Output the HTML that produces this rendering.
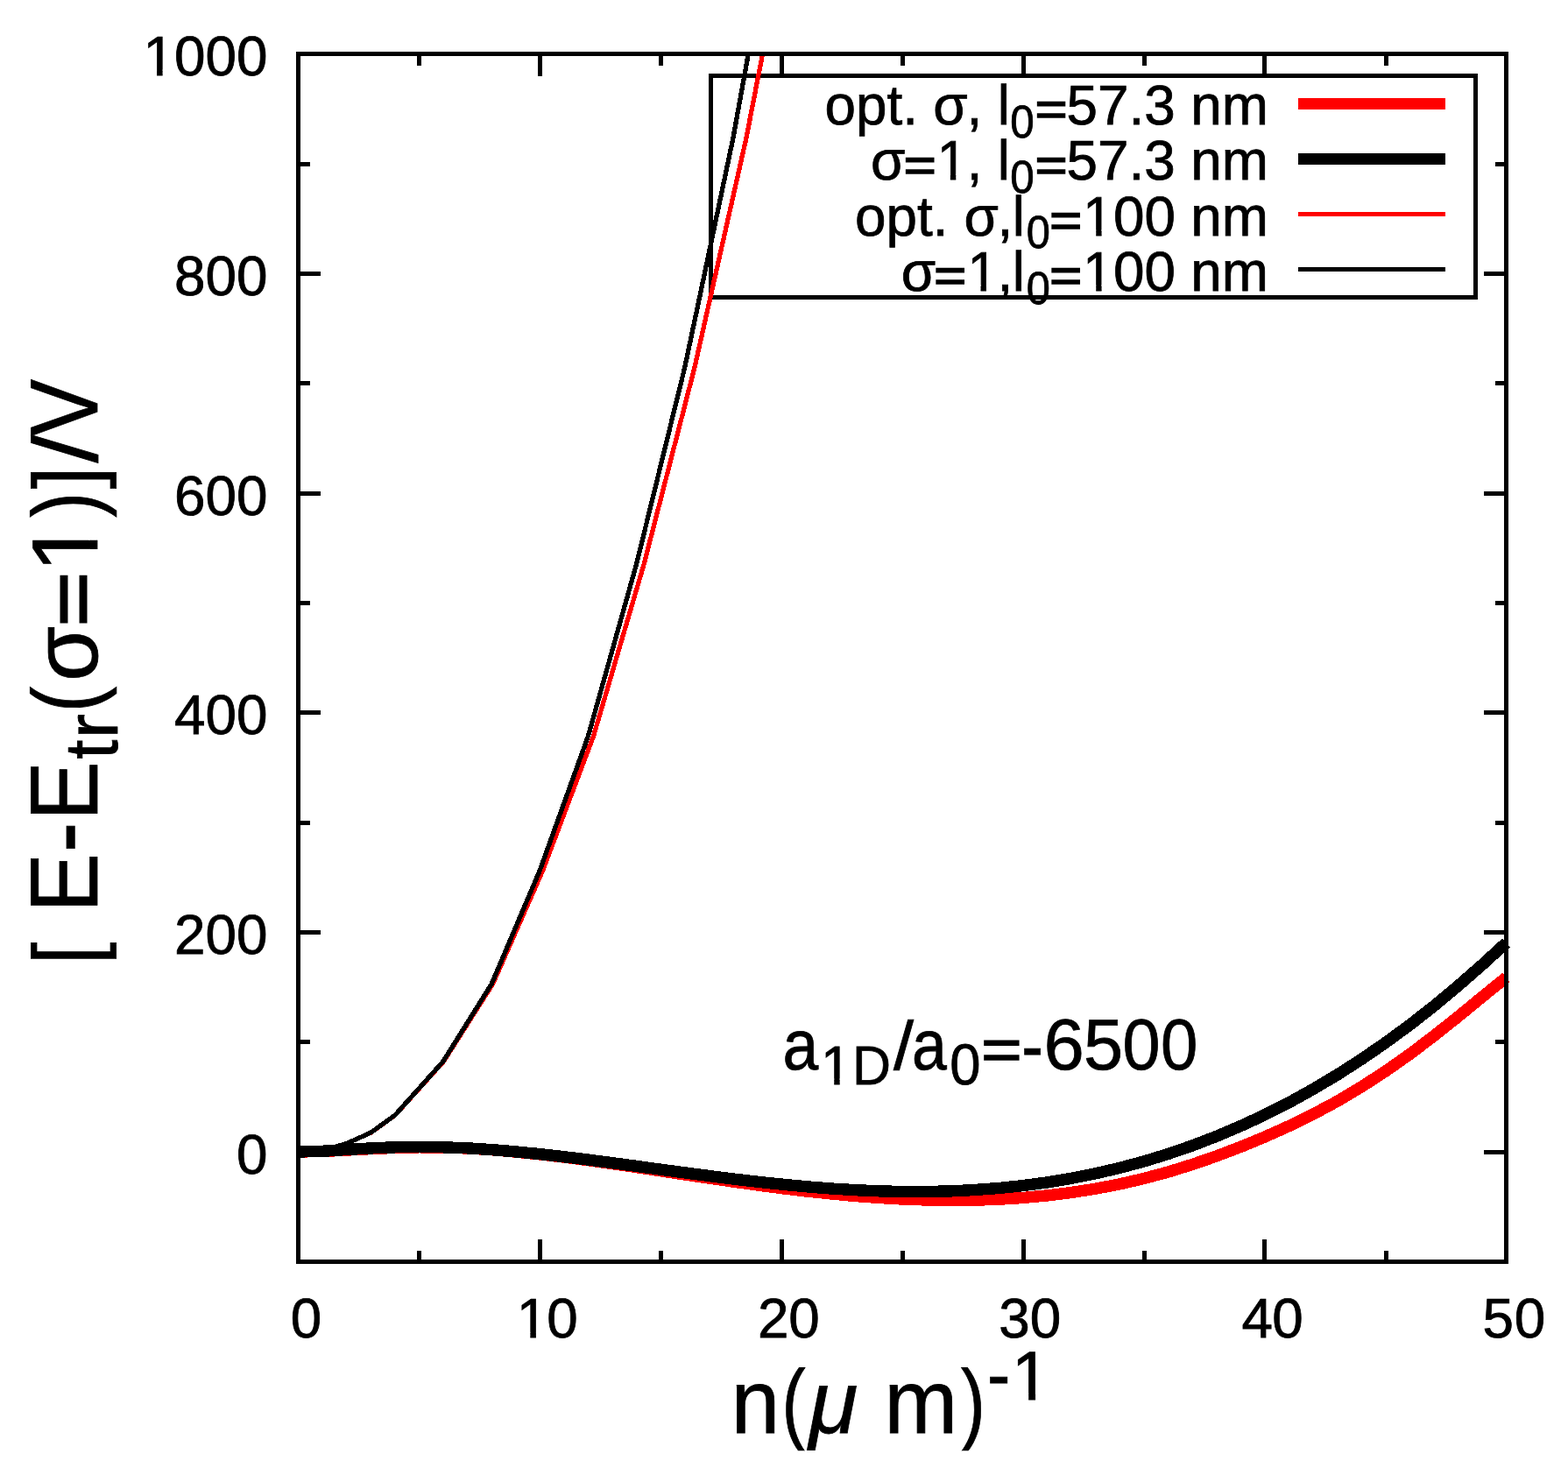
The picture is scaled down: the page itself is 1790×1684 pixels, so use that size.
<!DOCTYPE html>
<html lang="en"><head><meta charset="utf-8"><title>Energy per particle vs density</title>
<style>html,body{margin:0;padding:0;background:#fff}body{width:1790px;height:1684px}svg{display:block}</style></head>
<body>
<svg width="1790" height="1684" viewBox="0 0 1790 1684">
<rect x="0" y="0" width="1790" height="1684" fill="#fff"/>
<rect id="legend-box" x="811.5" y="86.5" width="873.0" height="253.0" stroke="#000" stroke-width="5" fill="none"/>
<defs><clipPath id="cp"><rect x="330" y="61.5" width="1400" height="1379"/></clipPath></defs>
<g id="curves" fill="none" stroke-linecap="butt" stroke-linejoin="round" clip-path="url(#cp)" shape-rendering="crispEdges">
<path d="M340.5 1315.0 L368.1 1314.5 L395.7 1313.1 L423.2 1311.6 L450.8 1310.4 L478.4 1309.8 L506.0 1310.0 L533.6 1311.0 L561.1 1312.7 L588.7 1315.1 L616.3 1317.9 L643.9 1321.1 L671.5 1324.7 L699.0 1328.6 L726.6 1332.6 L754.2 1336.8 L781.8 1341.0 L809.4 1345.1 L836.9 1349.1 L864.5 1353.0 L892.1 1356.6 L919.7 1359.9 L947.3 1362.8 L974.8 1365.4 L1002.4 1367.4 L1030.0 1369.0 L1057.6 1370.0 L1085.2 1370.4 L1112.7 1370.2 L1140.3 1369.2 L1167.9 1367.5 L1195.5 1364.9 L1223.1 1361.5 L1250.6 1357.2 L1278.2 1351.9 L1305.8 1345.5 L1333.4 1338.1 L1361.0 1329.5 L1388.5 1320.0 L1416.1 1309.5 L1443.7 1298.1 L1471.3 1285.7 L1498.9 1272.2 L1526.4 1257.4 L1554.0 1241.0 L1581.6 1223.1 L1609.2 1203.7 L1636.8 1182.8 L1664.3 1160.9 L1691.9 1138.3 L1719.5 1115.9" stroke="#f00" stroke-width="13.4"/>
<path d="M340.5 1315.0 L368.1 1314.3 L395.7 1312.5 L423.2 1310.9 L450.8 1309.8 L478.4 1309.4 L506.0 1309.8 L533.6 1310.8 L561.1 1312.6 L588.7 1314.9 L616.3 1317.6 L643.9 1320.7 L671.5 1324.1 L699.0 1327.7 L726.6 1331.4 L754.2 1335.2 L781.8 1338.9 L809.4 1342.5 L836.9 1346.0 L864.5 1349.2 L892.1 1352.1 L919.7 1354.7 L947.3 1356.9 L974.8 1358.6 L1002.4 1359.8 L1030.0 1360.5 L1057.6 1360.5 L1085.2 1359.9 L1112.7 1358.5 L1140.3 1356.5 L1167.9 1353.6 L1195.5 1349.9 L1223.1 1345.3 L1250.6 1339.8 L1278.2 1333.4 L1305.8 1326.0 L1333.4 1317.5 L1361.0 1308.0 L1388.5 1297.4 L1416.1 1285.7 L1443.7 1272.9 L1471.3 1258.9 L1498.9 1243.6 L1526.4 1227.2 L1554.0 1209.5 L1581.6 1190.5 L1609.2 1170.3 L1636.8 1148.7 L1664.3 1125.8 L1691.9 1101.6 L1719.5 1076.3" stroke="#000" stroke-width="13.4"/>
<path d="M340.5 1315.0 L368.1 1313.6 L395.7 1305.5 L423.3 1293.2 L451.0 1273.3 L506.5 1211.7 L562.5 1123.5 L619.7 993.6 L677.6 840.2 L735.2 643.9 L793.0 419.2 L851.9 157.7 L911.2 -147.7" stroke="#f00" stroke-width="5.3"/>
<path d="M340.5 1315.0 L368.1 1313.6 L395.7 1305.5 L423.2 1293.2 L450.8 1273.3 L506.0 1211.7 L561.1 1123.5 L616.3 993.6 L671.5 840.2 L726.6 643.9 L781.8 419.2 L836.9 157.7 L892.1 -147.7" stroke="#000" stroke-width="5.3"/>
</g>
<g id="axes" stroke="#000" stroke-width="5" fill="none" stroke-linecap="butt" stroke-linejoin="miter">
<rect x="340.5" y="61.5" width="1379.0" height="1379.0"/>
<path d="M478.5 1440.5V1428.0M478.5 61.5V75.0M616.5 1440.5V1415.0M616.5 61.5V87.0M754.5 1440.5V1428.0M754.5 61.5V75.0M892.5 1440.5V1415.0M892.5 61.5V87.0M1030.5 1440.5V1428.0M1030.5 61.5V75.0M1168.5 1440.5V1415.0M1168.5 61.5V87.0M1306.5 1440.5V1428.0M1306.5 61.5V75.0M1443.5 1440.5V1415.0M1443.5 61.5V87.0M1582.5 1440.5V1428.0M1582.5 61.5V75.0M340.5 1315.5H366.0M1719.5 1315.5H1694.0M340.5 1189.5H354.0M1719.5 1189.5H1707.0M340.5 1064.5H366.0M1719.5 1064.5H1694.0M340.5 939.5H354.0M1719.5 939.5H1707.0M340.5 813.5H366.0M1719.5 813.5H1694.0M340.5 688.5H354.0M1719.5 688.5H1707.0M340.5 563.5H366.0M1719.5 563.5H1694.0M340.5 437.5H354.0M1719.5 437.5H1707.0M340.5 312.5H366.0M1719.5 312.5H1694.0M340.5 187.5H354.0M1719.5 187.5H1707.0"/>
</g>
<g id="legend-samples" fill="none">
<path d="M1482 118.5H1650" stroke="#f00" stroke-width="13"/>
<path d="M1482 181.5H1650" stroke="#000" stroke-width="13"/>
<path d="M1482 244.5H1650" stroke="#f00" stroke-width="5"/>
<path d="M1482 307.5H1650" stroke="#000" stroke-width="5"/>
</g>
<g id="ticklabels">
<clipPath id="ft1"><path clip-rule="evenodd" d="M-3000 -3000H3000V3000H-3000ZM166.58 79.43H179.06V87.60H166.58ZM185.59 79.43H197.73V87.60H185.59Z"/></clipPath><text clip-path="url(#ft1)" style="font-family:&quot;Liberation Sans&quot;,&quot;Liberation Sans Narrow&quot;,sans-serif" fill="#000" stroke="#000" stroke-width="0.8" stroke-linejoin="miter" text-rendering="geometricPrecision" xml:space="preserve"><tspan x="163.46 198.94 234.43 269.91" y="85.80" style="font-size:63.80px">1000</tspan></text>
<text style="font-family:&quot;Liberation Sans&quot;,&quot;Liberation Sans Narrow&quot;,sans-serif" fill="#000" stroke="#000" stroke-width="0.8" stroke-linejoin="miter" text-rendering="geometricPrecision" xml:space="preserve"><tspan x="198.94 234.43 269.91" y="336.80" style="font-size:63.80px">800</tspan></text>
<text style="font-family:&quot;Liberation Sans&quot;,&quot;Liberation Sans Narrow&quot;,sans-serif" fill="#000" stroke="#000" stroke-width="0.8" stroke-linejoin="miter" text-rendering="geometricPrecision" xml:space="preserve"><tspan x="198.94 234.43 269.91" y="587.80" style="font-size:63.80px">600</tspan></text>
<text style="font-family:&quot;Liberation Sans&quot;,&quot;Liberation Sans Narrow&quot;,sans-serif" fill="#000" stroke="#000" stroke-width="0.8" stroke-linejoin="miter" text-rendering="geometricPrecision" xml:space="preserve"><tspan x="198.94 234.43 269.91" y="837.80" style="font-size:63.80px">400</tspan></text>
<text style="font-family:&quot;Liberation Sans&quot;,&quot;Liberation Sans Narrow&quot;,sans-serif" fill="#000" stroke="#000" stroke-width="0.8" stroke-linejoin="miter" text-rendering="geometricPrecision" xml:space="preserve"><tspan x="198.94 234.43 269.91" y="1088.80" style="font-size:63.80px">200</tspan></text>
<text style="font-family:&quot;Liberation Sans&quot;,&quot;Liberation Sans Narrow&quot;,sans-serif" fill="#000" stroke="#000" stroke-width="0.8" stroke-linejoin="miter" text-rendering="geometricPrecision" xml:space="preserve"><tspan x="269.91" y="1339.80" style="font-size:63.80px">0</tspan></text>
<text style="font-family:&quot;Liberation Sans&quot;,&quot;Liberation Sans Narrow&quot;,sans-serif" fill="#000" stroke="#000" stroke-width="0.8" stroke-linejoin="miter" text-rendering="geometricPrecision" xml:space="preserve"><tspan x="331.71" y="1527.20" style="font-size:63.80px">0</tspan></text>
<clipPath id="ft2"><path clip-rule="evenodd" d="M-3000 -3000H3000V3000H-3000ZM592.88 1520.83H605.36V1529.00H592.88ZM611.90 1520.83H624.03V1529.00H611.90Z"/></clipPath><text clip-path="url(#ft2)" style="font-family:&quot;Liberation Sans&quot;,&quot;Liberation Sans Narrow&quot;,sans-serif" fill="#000" stroke="#000" stroke-width="0.8" stroke-linejoin="miter" text-rendering="geometricPrecision" xml:space="preserve"><tspan x="589.76" y="1527.20" style="font-size:63.80px">1</tspan><tspan x="624.31" y="1527.20" style="font-size:63.80px">0</tspan></text>
<text style="font-family:&quot;Liberation Sans&quot;,&quot;Liberation Sans Narrow&quot;,sans-serif" fill="#000" stroke="#000" stroke-width="0.8" stroke-linejoin="miter" text-rendering="geometricPrecision" xml:space="preserve"><tspan x="864.89" y="1527.20" style="font-size:63.80px">2</tspan><tspan x="900.31" y="1527.20" style="font-size:63.80px">0</tspan></text>
<text style="font-family:&quot;Liberation Sans&quot;,&quot;Liberation Sans Narrow&quot;,sans-serif" fill="#000" stroke="#000" stroke-width="0.8" stroke-linejoin="miter" text-rendering="geometricPrecision" xml:space="preserve"><tspan x="1140.17" y="1527.20" style="font-size:63.80px">3</tspan><tspan x="1175.81" y="1527.20" style="font-size:63.80px">0</tspan></text>
<text style="font-family:&quot;Liberation Sans&quot;,&quot;Liberation Sans Narrow&quot;,sans-serif" fill="#000" stroke="#000" stroke-width="0.8" stroke-linejoin="miter" text-rendering="geometricPrecision" xml:space="preserve"><tspan x="1417.54" y="1527.20" style="font-size:63.80px">4</tspan><tspan x="1452.31" y="1527.20" style="font-size:63.80px">0</tspan></text>
<text style="font-family:&quot;Liberation Sans&quot;,&quot;Liberation Sans Narrow&quot;,sans-serif" fill="#000" stroke="#000" stroke-width="0.8" stroke-linejoin="miter" text-rendering="geometricPrecision" xml:space="preserve"><tspan x="1692.55" y="1527.20" style="font-size:63.80px">5</tspan><tspan x="1728.81" y="1527.20" style="font-size:63.80px">0</tspan></text>
</g>
<g id="legend-text">
<text style="font-family:&quot;Liberation Sans&quot;,&quot;Liberation Sans Narrow&quot;,sans-serif" fill="#000" stroke="#000" stroke-width="0.8" stroke-linejoin="miter" text-rendering="geometricPrecision" xml:space="preserve"><tspan x="941.47 976.95 1012.44 1030.16 1047.89" y="142.00" style="font-size:63.80px">opt. </tspan><tspan x="1065.32" y="142.00" style="font-size:63.80px">σ</tspan><tspan x="1103.57 1121.29" y="142.00" style="font-size:63.80px">, </tspan><tspan x="1138.85" y="142.00" style="font-size:63.80px">l</tspan><tspan x="1153.27" y="156.95" textLength="27.46" lengthAdjust="spacingAndGlyphs" style="font-size:52.49px">0</tspan><tspan x="1181.78" y="143.38" textLength="36.66" lengthAdjust="spacingAndGlyphs" style="font-size:53.70px;stroke-width:1.7px">=</tspan><tspan x="1217.45 1252.93 1288.41 1306.14 1341.62" y="142.00" style="font-size:63.80px">57.3 </tspan><tspan x="1359.26 1394.75" y="142.00" style="font-size:63.80px">nm</tspan></text>
<clipPath id="ft3"><path clip-rule="evenodd" d="M-3000 -3000H3000V3000H-3000ZM1072.76 198.84H1084.87V207.00H1072.76ZM1091.25 198.84H1103.03V207.00H1091.25Z"/></clipPath><text clip-path="url(#ft3)" style="font-family:&quot;Liberation Sans&quot;,&quot;Liberation Sans Narrow&quot;,sans-serif" fill="#000" stroke="#000" stroke-width="0.8" stroke-linejoin="miter" text-rendering="geometricPrecision" xml:space="preserve"><tspan x="994.02" y="205.20" style="font-size:63.80px">σ</tspan><tspan x="1031.66" y="206.58" textLength="36.90" lengthAdjust="spacingAndGlyphs" style="font-size:53.70px;stroke-width:1.7px">=</tspan><tspan x="1069.74" y="205.20" textLength="34.47" lengthAdjust="spacingAndGlyphs" style="font-size:63.66px">1</tspan><tspan x="1103.87 1121.59" y="205.20" style="font-size:63.80px">, </tspan><tspan x="1138.85" y="205.20" style="font-size:63.80px">l</tspan><tspan x="1153.27" y="220.15" textLength="27.46" lengthAdjust="spacingAndGlyphs" style="font-size:52.49px">0</tspan><tspan x="1181.78" y="206.58" textLength="36.66" lengthAdjust="spacingAndGlyphs" style="font-size:53.70px;stroke-width:1.7px">=</tspan><tspan x="1217.45 1252.93 1288.41 1306.14 1341.62" y="205.20" style="font-size:63.80px">57.3 </tspan><tspan x="1359.26 1394.75" y="205.20" style="font-size:63.80px">nm</tspan></text>
<clipPath id="ft4"><path clip-rule="evenodd" d="M-3000 -3000H3000V3000H-3000ZM1239.30 262.14H1251.25V270.30H1239.30ZM1257.55 262.14H1269.16V270.30H1257.55Z"/></clipPath><text clip-path="url(#ft4)" style="font-family:&quot;Liberation Sans&quot;,&quot;Liberation Sans Narrow&quot;,sans-serif" fill="#000" stroke="#000" stroke-width="0.8" stroke-linejoin="miter" text-rendering="geometricPrecision" xml:space="preserve"><tspan x="976.12 1011.60 1047.09 1064.81 1082.54" y="268.50" style="font-size:63.80px">opt. </tspan><tspan x="1100.42" y="268.50" style="font-size:63.80px">σ</tspan><tspan x="1138.57" y="268.50" style="font-size:63.80px">,</tspan><tspan x="1155.80" y="268.50" style="font-size:63.80px">l</tspan><tspan x="1171.70" y="283.45" textLength="27.11" lengthAdjust="spacingAndGlyphs" style="font-size:52.49px">0</tspan><tspan x="1198.16" y="269.88" textLength="36.90" lengthAdjust="spacingAndGlyphs" style="font-size:53.70px;stroke-width:1.7px">=</tspan><tspan x="1236.32" y="268.50" textLength="34.01" lengthAdjust="spacingAndGlyphs" style="font-size:63.66px">1</tspan><tspan x="1270.91 1306.39 1341.87" y="268.50" style="font-size:63.80px">00 </tspan><tspan x="1359.26 1394.75" y="268.50" style="font-size:63.80px">nm</tspan></text>
<clipPath id="ft5"><path clip-rule="evenodd" d="M-3000 -3000H3000V3000H-3000ZM1107.46 325.34H1119.57V333.50H1107.46ZM1125.95 325.34H1137.73V333.50H1125.95ZM1239.30 325.34H1251.25V333.50H1239.30ZM1257.55 325.34H1269.16V333.50H1257.55Z"/></clipPath><text clip-path="url(#ft5)" style="font-family:&quot;Liberation Sans&quot;,&quot;Liberation Sans Narrow&quot;,sans-serif" fill="#000" stroke="#000" stroke-width="0.8" stroke-linejoin="miter" text-rendering="geometricPrecision" xml:space="preserve"><tspan x="1028.72" y="331.70" style="font-size:63.80px">σ</tspan><tspan x="1066.36" y="333.08" textLength="36.90" lengthAdjust="spacingAndGlyphs" style="font-size:53.70px;stroke-width:1.7px">=</tspan><tspan x="1104.44" y="331.70" textLength="34.47" lengthAdjust="spacingAndGlyphs" style="font-size:63.66px">1</tspan><tspan x="1138.57" y="331.70" style="font-size:63.80px">,</tspan><tspan x="1155.80" y="331.70" style="font-size:63.80px">l</tspan><tspan x="1171.70" y="346.65" textLength="27.11" lengthAdjust="spacingAndGlyphs" style="font-size:52.49px">0</tspan><tspan x="1198.16" y="333.08" textLength="36.90" lengthAdjust="spacingAndGlyphs" style="font-size:53.70px;stroke-width:1.7px">=</tspan><tspan x="1236.32" y="331.70" textLength="34.01" lengthAdjust="spacingAndGlyphs" style="font-size:63.66px">1</tspan><tspan x="1270.91 1306.39 1341.87" y="331.70" style="font-size:63.80px">00 </tspan><tspan x="1359.26 1394.75" y="331.70" style="font-size:63.80px">nm</tspan></text>
</g>
<g id="annot">
<clipPath id="ft6"><path clip-rule="evenodd" d="M-3000 -3000H3000V3000H-3000ZM940.05 1231.22H952.24V1239.30H940.05ZM958.65 1231.22H970.51V1239.30H958.65Z"/></clipPath><text clip-path="url(#ft6)" style="font-family:&quot;Liberation Sans&quot;,&quot;Liberation Sans Narrow&quot;,sans-serif" fill="#000" stroke="#000" stroke-width="0.8" stroke-linejoin="miter" text-rendering="geometricPrecision" xml:space="preserve"><tspan x="893.39" y="1220.60" textLength="40.71" lengthAdjust="spacingAndGlyphs" style="font-size:81.21px">a</tspan><tspan x="937.00" y="1237.50" textLength="34.69" lengthAdjust="spacingAndGlyphs" style="font-size:62.65px">1</tspan><tspan x="972.90" y="1237.50" textLength="44.02" lengthAdjust="spacingAndGlyphs" style="font-size:62.65px">D</tspan><tspan x="1020.00" y="1220.60" textLength="23.00" lengthAdjust="spacingAndGlyphs" style="font-size:78.39px">/</tspan><tspan x="1040.96" y="1220.60" textLength="39.84" lengthAdjust="spacingAndGlyphs" style="font-size:81.21px">a</tspan><tspan x="1084.32" y="1238.30" textLength="35.25" lengthAdjust="spacingAndGlyphs" style="font-size:65.88px">0</tspan><tspan x="1120.23" y="1220.89" textLength="46.28" lengthAdjust="spacingAndGlyphs" style="font-size:66.50px;stroke-width:1.6px">=</tspan><tspan x="1166.31" y="1223.67" textLength="24.69" lengthAdjust="spacingAndGlyphs" style="font-size:88.00px">-</tspan><tspan x="1191.57" y="1221.20" textLength="46.28" lengthAdjust="spacingAndGlyphs" style="font-size:82.21px">6</tspan><tspan x="1236.95" y="1221.20" textLength="45.16" lengthAdjust="spacingAndGlyphs" style="font-size:82.27px">5</tspan><tspan x="1281.38" y="1221.20" textLength="43.05" lengthAdjust="spacingAndGlyphs" style="font-size:82.21px">0</tspan><tspan x="1325.03" y="1221.20" textLength="42.35" lengthAdjust="spacingAndGlyphs" style="font-size:82.21px">0</tspan></text>
</g>
<defs><clipPath id="cx"><rect x="0" y="1500" width="1790" height="156.3"/></clipPath></defs>
<g id="xlabel" clip-path="url(#cx)">
<clipPath id="ft7"><path clip-rule="evenodd" d="M-3000 -3000H3000V3000H-3000ZM1158.67 1590.60H1174.19V1599.90H1158.67ZM1182.05 1590.60H1197.14V1599.90H1182.05Z"/></clipPath><text clip-path="url(#ft7)" style="font-family:&quot;Liberation Sans&quot;,&quot;Liberation Sans Narrow&quot;,sans-serif" fill="#000" stroke="#000" stroke-width="0.8" stroke-linejoin="miter" text-rendering="geometricPrecision" xml:space="preserve"><tspan x="834.54" y="1636.10" textLength="55.77" lengthAdjust="spacingAndGlyphs" style="font-size:103.14px">n</tspan><tspan x="892.57" y="1636.10" textLength="27.00" lengthAdjust="spacingAndGlyphs" style="font-size:102.81px">(</tspan><tspan x="923.53" y="1636.10" textLength="55.70" lengthAdjust="spacingAndGlyphs" style="font-size:101.64px;font-style:italic">μ</tspan> <tspan x="1009.30" y="1636.10" textLength="84.05" lengthAdjust="spacingAndGlyphs" style="font-size:103.14px">m</tspan><tspan x="1097.11" y="1636.10" textLength="27.88" lengthAdjust="spacingAndGlyphs" style="font-size:102.81px">)</tspan><tspan x="1126.89" y="1599.17" textLength="26.33" lengthAdjust="spacingAndGlyphs" style="font-size:88.00px">-</tspan><tspan x="1154.82" y="1598.10" textLength="43.83" lengthAdjust="spacingAndGlyphs" style="font-size:78.93px">1</tspan></text>
</g>
<g id="ylabel">
<clipPath id="ft8"><path clip-rule="evenodd" d="M-3000 -3000H3000V3000H-3000ZM-648.51 101.43H-627.09V112.80H-648.51ZM-616.65 101.43H-595.81V112.80H-616.65Z"/></clipPath><text transform="rotate(-90)" clip-path="url(#ft8)" style="font-family:&quot;Liberation Sans&quot;,&quot;Liberation Sans Narrow&quot;,sans-serif" fill="#000" stroke="#000" stroke-width="0.8" stroke-linejoin="miter" text-rendering="geometricPrecision" xml:space="preserve"><tspan x="-1101.03" y="111.00" textLength="25.44" lengthAdjust="spacingAndGlyphs" style="font-size:104.33px">[</tspan> <tspan x="-1041.84" y="111.00" textLength="67.81" lengthAdjust="spacingAndGlyphs" style="font-size:109.89px">E</tspan><tspan x="-973.34" y="112.34" textLength="34.78" lengthAdjust="spacingAndGlyphs" style="font-size:118.00px">-</tspan><tspan x="-936.94" y="111.00" textLength="67.81" lengthAdjust="spacingAndGlyphs" style="font-size:109.89px">E</tspan><tspan x="-866.80" y="134.30" textLength="22.09" lengthAdjust="spacingAndGlyphs" style="font-size:86.39px">t</tspan><tspan x="-843.16" y="134.30" textLength="28.37" lengthAdjust="spacingAndGlyphs" style="font-size:83.54px">r</tspan><tspan x="-813.30" y="111.00" textLength="29.52" lengthAdjust="spacingAndGlyphs" style="font-size:105.85px">(</tspan><tspan x="-777.90" y="111.00" textLength="63.26" lengthAdjust="spacingAndGlyphs" style="font-size:105.81px">σ</tspan><tspan x="-714.99" y="113.44" textLength="62.02" lengthAdjust="spacingAndGlyphs" style="font-size:88.10px;stroke-width:2.6px">=</tspan><tspan x="-653.78" y="111.00" textLength="60.03" lengthAdjust="spacingAndGlyphs" style="font-size:106.69px">1</tspan><tspan x="-590.81" y="111.00" textLength="28.76" lengthAdjust="spacingAndGlyphs" style="font-size:105.85px">)</tspan><tspan x="-558.32" y="111.00" textLength="25.44" lengthAdjust="spacingAndGlyphs" style="font-size:104.33px">]</tspan><tspan x="-528.50" y="111.00" textLength="32.00" lengthAdjust="spacingAndGlyphs" style="font-size:104.33px">/</tspan><tspan x="-498.33" y="111.00" textLength="65.46" lengthAdjust="spacingAndGlyphs" style="font-size:109.89px">V</tspan></text>
</g>
</svg>
</body></html>
